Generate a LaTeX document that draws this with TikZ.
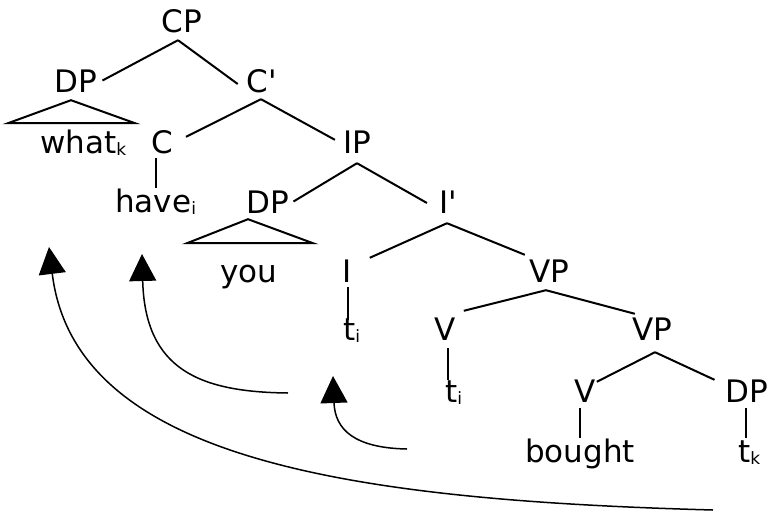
\documentclass[tikz,border=0pt]{standalone}
\usepackage{fontspec}
\setmainfont{DejaVu Sans}
\usetikzlibrary{arrows.meta}
\newcommand{\sbs}[1]{\raisebox{-2pt}{\fontsize{17pt}{17pt}\selectfont #1}}
\begin{document}
\begin{tikzpicture}[x=1pt,y=-1pt,
  lab/.style={inner sep=0pt, text height=23pt, text depth=0pt, anchor=base,
              font=\fontsize{31pt}{37pt}\selectfont},
  leaf/.style={lab, anchor=base west},
  branch/.style={line width=2pt},
  move/.style={line width=1.5pt, -{Triangle[length=27pt,width=27pt]}}]
\useasboundingbox (0,0) rectangle (769,515);

\node[lab] (CP) at (182,32) {CP};
\node[lab] (DPa) at (76,92) {DP};
\node[lab] (Cbar) at (262,92) {C\textquotesingle};
\node[leaf] (what) at (40,153) {what\sbs{k}};
\node[lab] (C) at (162,153) {C};
\node[lab] (IP) at (357,153) {IP};
\node[leaf] (have) at (115,212) {have\sbs{i}};
\node[lab] (DPb) at (268,213) {DP};
\node[lab] (Ibar) at (448,213) {I\textquotesingle};
\node[lab] (you) at (249,282) {you};
\node[lab] (I) at (347,282) {I};
\node[lab] (VPa) at (549,282) {VP};
\node[leaf] (ti1) at (343,340) {t\sbs{i}};
\node[lab] (Va) at (445,340) {V};
\node[lab] (VPb) at (652,340) {VP};
\node[leaf] (ti2) at (445,402) {t\sbs{i}};
\node[lab] (Vb) at (585,402) {V};
\node[lab] (DPc) at (747,402) {DP};
\node[leaf] (bought) at (525,462) {bought};
\node[leaf] (tk) at (738,462) {t\sbs{k}};

\draw[branch] ([shift={(-4,8)}]CP.south) -- ([shift={(5,0)}]DPa.east);
\draw[branch] ([shift={(-4,8)}]CP.south) -- ([shift={(-9,3.5)}]Cbar.west);
\draw[branch] ([shift={(-5,8)}]DPa.south) -- ++(-63,23) -- ++(127,0) -- cycle;
\draw[branch] ([shift={(-1,7)}]Cbar.south) -- ([shift={(13,7)}]C.north east);
\draw[branch] ([shift={(-1,7)}]Cbar.south) -- ([shift={(-8,10)}]IP.north west);
\draw[branch] ([shift={(-6,5)}]C.south) -- ([xshift=-6pt,yshift=1pt]C.south |- have.north);
\draw[branch] ([shift={(0,10)}]IP.south) -- ([shift={(4,0)}]DPb.east);
\draw[branch] ([shift={(0,10)}]IP.south) -- ([shift={(-12,1.5)}]Ibar.west);
\draw[branch] ([shift={(-20,6)}]DPb.south) -- ++(-61,24) -- ++(126,0) -- cycle;
\draw[branch] ([shift={(-1,10)}]Ibar.south) -- ([shift={(18,-1)}]I.north east);
\draw[branch] ([shift={(-1,10)}]Ibar.south) -- ([shift={(-4,-4)}]VPa.north west);
\draw[branch] ([shift={(1,5)}]I.south) -- ([xshift=1pt,yshift=-3pt]I.south |- ti1.north);
\draw[branch] ([shift={(-3,8)}]VPa.south) -- ([shift={(8,-6)}]Va.north east);
\draw[branch] ([shift={(-3,8)}]VPa.south) -- ([shift={(3,-3)}]VPb.north west);
\draw[branch] ([shift={(3,8)}]Va.south) -- ([xshift=3pt,yshift=-1pt]Va.south |- ti2.north);
\draw[branch] ([shift={(3,12)}]VPb.south) -- ([shift={(1,3)}]Vb.north east);
\draw[branch] ([shift={(3,12)}]VPb.south) -- ([shift={(-11,1)}]DPc.north west);
\draw[branch] ([shift={(-5,6)}]Vb.south) -- ([xshift=-5pt,yshift=1pt]Vb.south |- bought.north);
\draw[branch] ([shift={(-1,6)}]DPc.south) -- ([xshift=-1pt,yshift=1pt]DPc.south |- tk.north);

\coordinate (m1s) at (713,510);
\coordinate (m1e) at (49,247);
\coordinate (m2s) at (288,393);
\coordinate (m2e) at (142,254);
\coordinate (m3s) at (407,449);
\coordinate (m3e) at (333,376);
\draw[move] (m1s) .. controls (350,500) and (75,460) .. (m1e);
\draw[move] (m2s) .. controls (200,392) and (145,370) .. (m2e);
\draw[move] (m3s) .. controls (355,448) and (335,430) .. (m3e);
\end{tikzpicture}
\end{document}
